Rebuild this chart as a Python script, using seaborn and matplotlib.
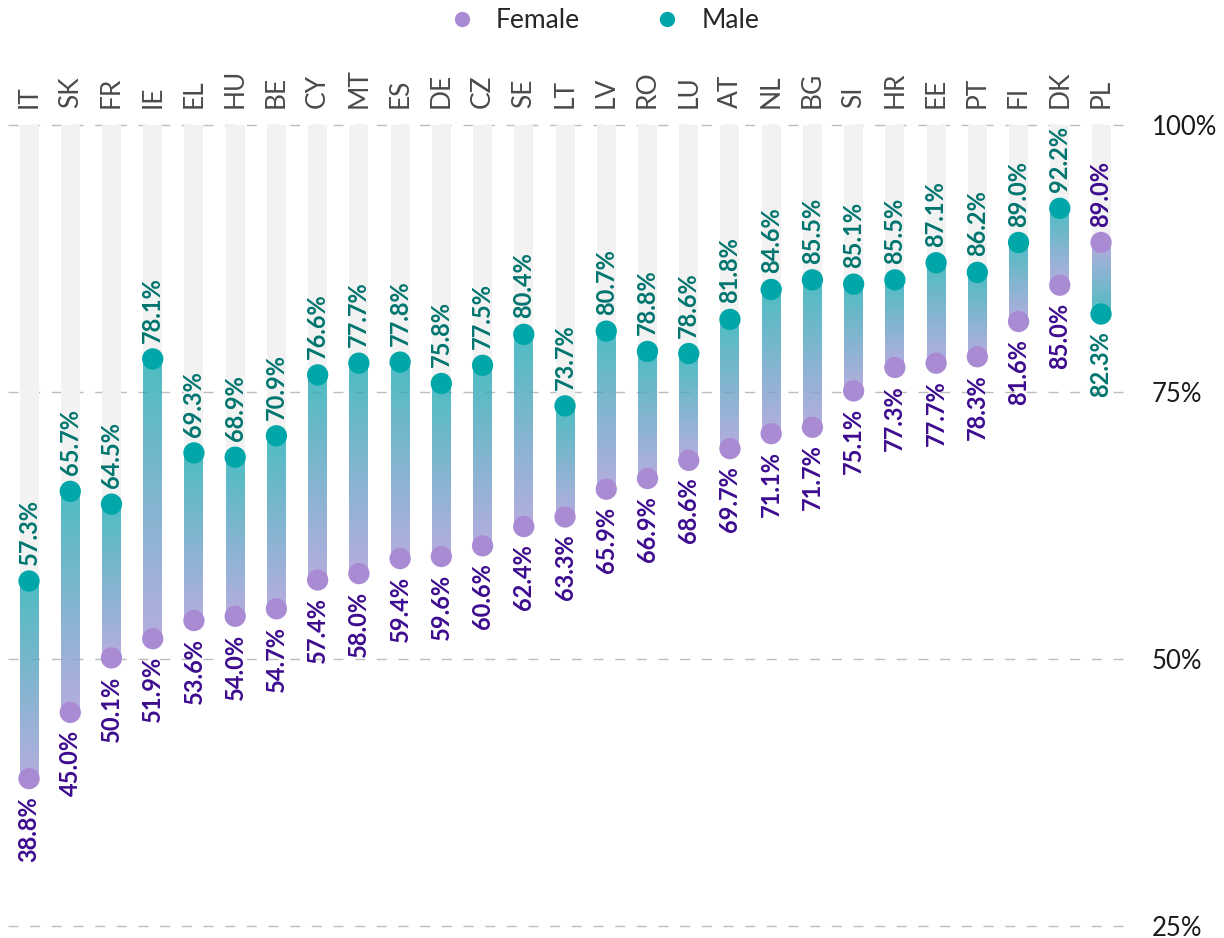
import numpy as np
import pandas as pd
import matplotlib
matplotlib.use("Agg")
import matplotlib.pyplot as plt
from matplotlib.colors import LinearSegmentedColormap
import seaborn as sns

countries = ["IT", "SK", "FR", "IE", "EL", "HU", "BE", "CY", "MT", "ES", "DE", "CZ", "SE", "LT",
             "LV", "RO", "LU", "AT", "NL", "BG", "SI", "HR", "EE", "PT", "FI", "DK", "PL"]
female = [38.8, 45.0, 50.1, 51.9, 53.6, 54.0, 54.7, 57.4, 58.0, 59.4, 59.6, 60.6, 62.4, 63.3,
          65.9, 66.9, 68.6, 69.7, 71.1, 71.7, 75.1, 77.3, 77.7, 78.3, 81.6, 85.0, 89.0]
male = [57.3, 65.7, 64.5, 78.1, 69.3, 68.9, 70.9, 76.6, 77.7, 77.8, 75.8, 77.5, 80.4, 73.7,
        80.7, 78.8, 78.6, 81.8, 84.6, 85.5, 85.1, 85.5, 87.1, 86.2, 89.0, 92.2, 82.3]
y_ticks = [25, 50, 75, 100]
y_tick_labels = ["25%", "50%", "75%", "100%"]

FEMALE_DOT = "#A98BD4"
MALE_DOT = "#00A6A8"
FEMALE_TXT = "#3D0B8E"
MALE_TXT = "#00756E"
TRACK = "#F2F2F2"

sns.set_theme(style="white")
plt.rcParams["font.family"] = ["Lato", "DejaVu Sans"]

fig = plt.figure(figsize=(12.24, 9.38), dpi=100)
W, H = 1224, 938
ax = fig.add_axes([8 / W, 1 - 926 / H, (1127 - 8) / W, (926 - 125) / H])

n = len(countries)
pos = np.arange(n)
bar_w = 0.46

# background tracks from the top of the scale down to the higher value
for i in range(n):
    hi = max(female[i], male[i])
    ax.bar(pos[i], 100 - hi, bottom=hi, width=bar_w, color=TRACK, zorder=1, linewidth=0)

# gradient connectors: teal at the male end, lavender at the female end
cmap = LinearSegmentedColormap.from_list("mf", ["#27aeb5", "#a59cd8"])
for i in range(n):
    lo, hi = sorted([female[i], male[i]])
    grad = np.linspace(1, 0, 256) if female[i] < male[i] else np.linspace(0, 1, 256)
    ax.imshow(grad.reshape(-1, 1), extent=[pos[i] - bar_w / 2, pos[i] + bar_w / 2, lo, hi],
              origin="lower", aspect="auto", cmap=cmap, vmin=0, vmax=1, alpha=0.82,
              interpolation="bilinear", zorder=2)

df = pd.DataFrame({
    "pos": np.concatenate([pos, pos]),
    "value": female + male,
    "Sex": ["Female"] * n + ["Male"] * n,
})
sns.scatterplot(data=df, x="pos", y="value", hue="Sex", hue_order=["Female", "Male"],
                palette={"Female": FEMALE_DOT, "Male": MALE_DOT}, s=235, linewidth=0,
                zorder=3, ax=ax, clip_on=False)

# value labels: above the higher dot, below the lower dot
for i in range(n):
    for val, other, col in [(female[i], male[i], FEMALE_TXT), (male[i], female[i], MALE_TXT)]:
        upper = val >= other
        ax.annotate(f"{val:.1f}%", xy=(pos[i], val),
                    xytext=(0, 11.5 if upper else -12.5), textcoords="offset points",
                    rotation=90, ha="center", va="bottom" if upper else "top",
                    fontsize=17, fontweight="bold", color=col, zorder=4)

ax.set_xlim(-0.51, 26.63)
ax.set_ylim(25, 100)
ax.set_xlabel("")
ax.set_ylabel("")

ax.xaxis.tick_top()
ax.set_xticks(pos)
ax.set_xticklabels(countries, rotation=90, fontsize=19, color="#4a4a4a")
ax.tick_params(axis="x", length=0, pad=12)

ax.yaxis.tick_right()
ax.set_yticks(y_ticks)
ax.set_yticklabels(y_tick_labels, fontsize=18.5, color="#1a1a1a")
ax.tick_params(axis="y", length=0, pad=18)

ax.grid(False)
for t in y_ticks:
    ax.axhline(t, color="#bdbdbd", linewidth=1.0, dashes=(7.2, 8.4), zorder=0.5, clip_on=False)

for s in ax.spines.values():
    s.set_visible(False)

sns.move_legend(ax, "upper center", bbox_to_anchor=(0.488, 1.004), bbox_transform=fig.transFigure,
                ncol=2, frameon=False, title=None, fontsize=19, markerscale=0.72,
                columnspacing=2.3, handletextpad=0.3, borderaxespad=0.05)

fig.savefig("out.png", dpi=100)
